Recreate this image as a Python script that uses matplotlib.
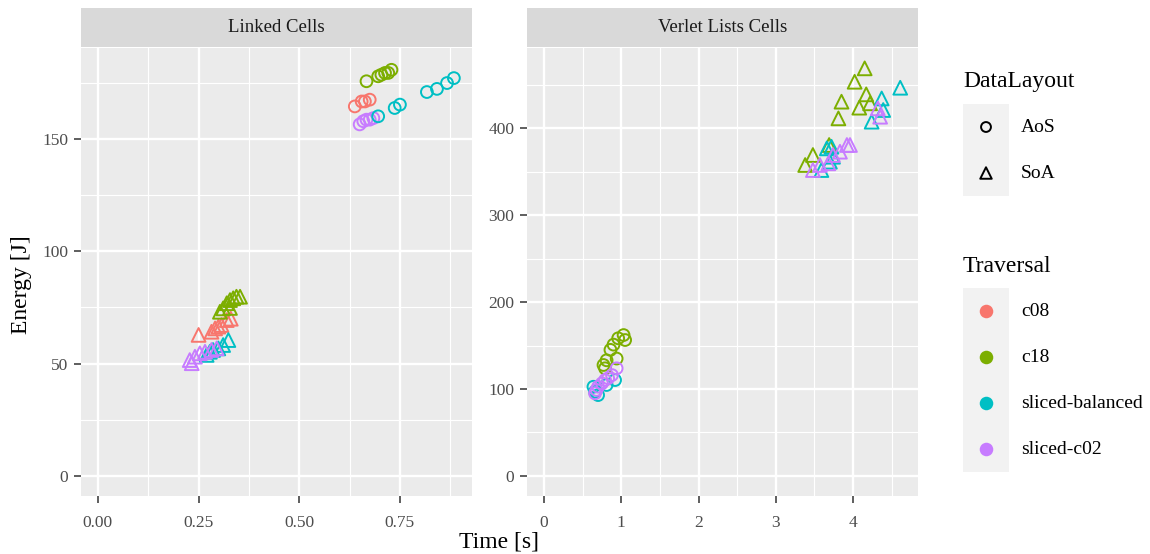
import matplotlib.pyplot as plt
from matplotlib.patches import Rectangle

plt.rcParams['font.family'] = ['Liberation Serif', 'DejaVu Serif']

traversals = ['c08', 'c18', 'sliced-balanced', 'sliced-c02']
colors = ['#F8766D', '#7CAE00', '#00BFC4', '#C77CFF']
layouts = ['AoS', 'SoA']
panel_titles = ['Linked Cells', 'Verlet Lists Cells']

# Linked Cells -- AoS (time [s], energy [J])
lc_aos_c08_t = [0.638, 0.655, 0.663, 0.675]
lc_aos_c08_e = [164.5, 166.7, 166.7, 167.5]
lc_aos_c18_t = [0.667, 0.696, 0.704, 0.713, 0.721, 0.729]
lc_aos_c18_e = [175.7, 177.9, 178.6, 179.4, 179.4, 180.8]
lc_aos_sb_t = [0.696, 0.737, 0.750, 0.817, 0.842, 0.867, 0.884]
lc_aos_sb_e = [160.1, 163.8, 165.3, 170.9, 172.3, 174.9, 177.1]
lc_aos_c02_t = [0.650, 0.659, 0.667, 0.675, 0.684]
lc_aos_c02_e = [156.5, 157.9, 158.6, 158.6, 159.3]

# Linked Cells -- SoA
lc_soa_c08_t = [0.250, 0.282, 0.291, 0.299, 0.307, 0.320, 0.330]
lc_soa_c08_e = [62.8, 64.2, 65.7, 66.5, 67.2, 69.4, 70.0]
lc_soa_c18_t = [0.303, 0.311, 0.320, 0.328, 0.336, 0.344, 0.353, 0.328]
lc_soa_c18_e = [73.1, 74.6, 76.9, 78.3, 79.1, 79.8, 79.8, 74.8]
lc_soa_sb_t = [0.270, 0.278, 0.286, 0.299, 0.311, 0.324]
lc_soa_sb_e = [53.9, 55.3, 56.1, 56.8, 58.3, 60.5]
lc_soa_c02_t = [0.228, 0.233, 0.241, 0.253, 0.266, 0.282, 0.295]
lc_soa_c02_e = [51.6, 50.2, 53.1, 54.6, 55.3, 56.1, 56.8]

# Verlet Lists Cells -- AoS
vl_aos_c18_t = [1.03, 0.96, 1.05, 0.90, 0.86, 0.94, 0.81, 0.77, 0.79]
vl_aos_c18_e = [162.0, 158.3, 156.3, 151.0, 145.0, 135.0, 133.0, 127.6, 123.8]
vl_aos_sb_t = [0.92, 0.81, 0.64, 0.66, 0.70]
vl_aos_sb_e = [110.3, 104.6, 102.6, 97.0, 93.0]
vl_aos_c02_t = [0.94, 0.88, 0.83, 0.79, 0.75, 0.70, 0.68, 0.66]
vl_aos_c02_e = [123.8, 116.0, 112.3, 110.3, 106.5, 102.6, 98.9, 95.0]

# Verlet Lists Cells -- SoA
vl_soa_c18_t = [4.15, 4.02, 3.85, 3.81, 4.17, 4.08, 4.22, 3.48, 3.38, 3.69]
vl_soa_c18_e = [468.6, 453.2, 430.3, 411.1, 438.7, 423.4, 428.4, 369.0, 357.5, 380.5]
vl_soa_sb_t = [4.61, 4.37, 4.39, 4.24, 3.66, 3.72, 3.59, 3.70, 3.74]
vl_soa_sb_e = [446.3, 434.0, 420.7, 407.3, 376.6, 378.5, 351.7, 361.3, 367.0]
vl_soa_c02_t = [4.32, 4.35, 3.48, 3.57, 3.68, 3.74, 3.83, 3.92, 3.96]
vl_soa_c02_e = [422.6, 413.0, 351.7, 357.5, 359.4, 369.0, 372.8, 380.5, 380.5]

# (panel, layout, traversal, times, energies)
series = [
    (0, 'AoS', 'c08', lc_aos_c08_t, lc_aos_c08_e),
    (0, 'AoS', 'c18', lc_aos_c18_t, lc_aos_c18_e),
    (0, 'AoS', 'sliced-c02', lc_aos_c02_t, lc_aos_c02_e),
    (0, 'AoS', 'sliced-balanced', lc_aos_sb_t, lc_aos_sb_e),
    (0, 'SoA', 'c08', lc_soa_c08_t, lc_soa_c08_e),
    (0, 'SoA', 'c18', lc_soa_c18_t, lc_soa_c18_e),
    (0, 'SoA', 'sliced-balanced', lc_soa_sb_t, lc_soa_sb_e),
    (0, 'SoA', 'sliced-c02', lc_soa_c02_t, lc_soa_c02_e),
    (1, 'AoS', 'c18', vl_aos_c18_t, vl_aos_c18_e),
    (1, 'AoS', 'sliced-balanced', vl_aos_sb_t, vl_aos_sb_e),
    (1, 'AoS', 'sliced-c02', vl_aos_c02_t, vl_aos_c02_e),
    (1, 'SoA', 'c18', vl_soa_c18_t, vl_soa_c18_e),
    (1, 'SoA', 'sliced-balanced', vl_soa_sb_t, vl_soa_sb_e),
    (1, 'SoA', 'sliced-c02', vl_soa_c02_t, vl_soa_c02_e),
]

W, H = 1150, 554
fig = plt.figure(figsize=(W / 100, H / 100), dpi=100)

def px_axes(x0, y0, x1, y1):  # pixel box (top-left origin) -> axes
    return fig.add_axes([x0 / W, 1 - y1 / H, (x1 - x0) / W, (y1 - y0) / H])

markers = {'AoS': 'o', 'SoA': '^'}
msize = {'AoS': 72, 'SoA': 98}

panel_boxes = [(81, 48, 472, 496), (527, 48, 918, 496)]
xlims = [(-0.042, 0.929), (-0.22, 4.84)]
ylims = [(-8.9, 190.5), (-23.0, 492.0)]
xmajor = [[0, 0.25, 0.5, 0.75], [0, 1, 2, 3, 4]]
xminor = [[0.125, 0.375, 0.625, 0.875], [0.5, 1.5, 2.5, 3.5, 4.5]]
ymajor = [[0, 50, 100, 150], [0, 100, 200, 300, 400]]
yminor = [[25, 75, 125, 175], [50, 150, 250, 350, 450]]
xlabels = [['0.00', '0.25', '0.50', '0.75'], ['0', '1', '2', '3', '4']]

axes = []
for i, box in enumerate(panel_boxes):
    ax = px_axes(*box)
    ax.set_facecolor('#EBEBEB')
    ax.set_xlim(*xlims[i])
    ax.set_ylim(*ylims[i])
    ax.set_xticks(xmajor[i])
    ax.set_xticklabels(xlabels[i])
    ax.set_xticks(xminor[i], minor=True)
    ax.set_yticks(ymajor[i])
    ax.set_yticks(yminor[i], minor=True)
    ax.set_axisbelow(True)
    ax.grid(which='major', color='white', linewidth=1.7)
    ax.grid(which='minor', color='white', linewidth=0.8)
    for s in ax.spines.values():
        s.set_visible(False)
    ax.tick_params(which='major', length=5, width=1.1, color='#333333',
                   labelcolor='#4D4D4D', labelsize=12.5, pad=4)
    ax.tick_params(which='minor', length=0)
    ax.tick_params(axis='x', pad=9)
    # facet strip
    sx = px_axes(box[0], 8, box[2], 47)
    sx.set_facecolor('#D9D9D9')
    sx.set_xticks([])
    sx.set_yticks([])
    for s in sx.spines.values():
        s.set_visible(False)
    sx.text(0.5, 0.5, panel_titles[i], ha='center', va='center',
            fontsize=13.5, color='#1A1A1A', transform=sx.transAxes)
    axes.append(ax)

for panel, lay, trav, t, e in series:
    c = colors[traversals.index(trav)]
    axes[panel].scatter(t, e, s=msize[lay], marker=markers[lay],
                        facecolors='none', edgecolors=c, linewidths=1.4)

fig.text(499 / W, 1 - 542 / H, 'Time [s]', ha='center', va='center', fontsize=17)
fig.text(22 / W, 1 - 285 / H, 'Energy [J]', ha='center', va='center',
         rotation=90, fontsize=17)

# legends
lg = fig.add_axes([0, 0, 1, 1])
lg.set_xlim(0, W)
lg.set_ylim(H, 0)
lg.axis('off')
key_h = 46
lg.text(963, 81, 'DataLayout', ha='left', va='center', fontsize=17)
lg.add_patch(Rectangle((963, 104), 46, key_h * len(layouts), color='#F2F2F2', lw=0))
for j, lay in enumerate(layouts):
    yc = 104 + key_h * (j + 0.5)
    lg.scatter([986], [yc], s=msize[lay] * 0.7, marker=markers[lay],
               facecolors='none', edgecolors='black', linewidths=1.4)
    lg.text(1021, yc, lay, ha='left', va='center', fontsize=14)

lg.text(963, 267, 'Traversal', ha='left', va='center', fontsize=17)
lg.add_patch(Rectangle((963, 288), 46, key_h * len(traversals), color='#F2F2F2', lw=0))
for j, trav in enumerate(traversals):
    yc = 288 + key_h * (j + 0.5)
    lg.scatter([986], [yc], s=95, marker='o', color=colors[j], linewidths=0)
    lg.text(1021, yc, trav, ha='left', va='center', fontsize=14)

fig.savefig('out.png', dpi=100)
